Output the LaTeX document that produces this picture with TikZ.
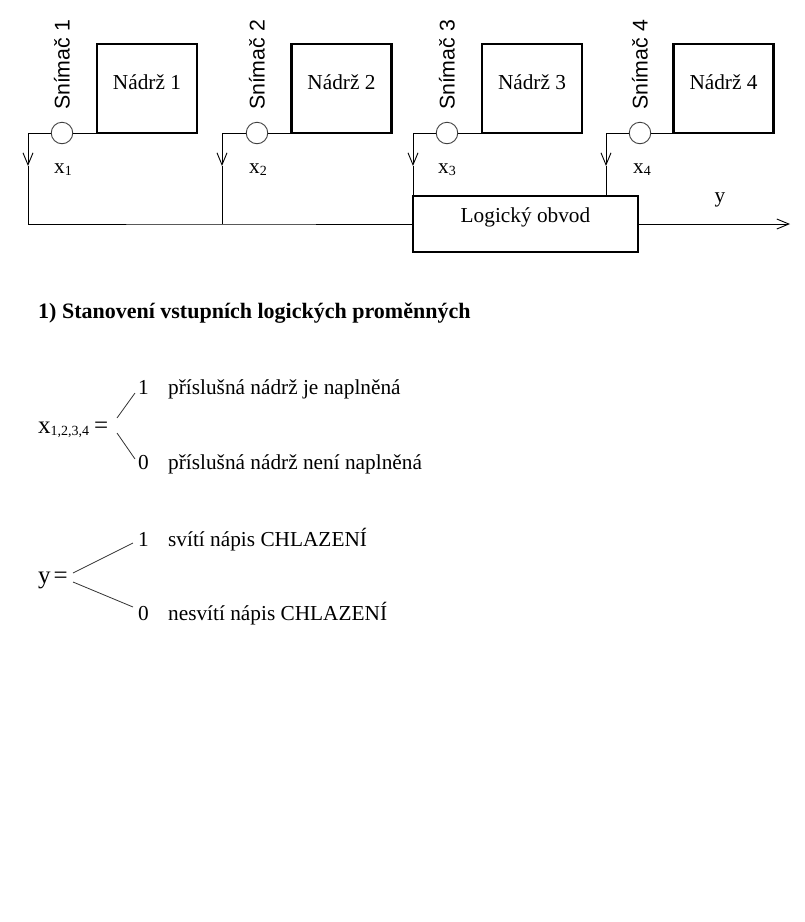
\documentclass[tikz,border=0pt]{standalone}
\usepackage{fontspec}
\setmainfont{Liberation Serif}
\newfontfamily\arialf{Liberation Sans}
\usetikzlibrary{arrows.meta}
\newcommand{\bigf}{\fontsize{21.3}{25}\selectfont}
\newcommand{\largef}{\fontsize{25}{29}\selectfont}
\newcommand{\subf}[1]{\raisebox{-2pt}{\fontsize{14}{14}\selectfont #1}}
\begin{document}
\begin{tikzpicture}[x=1pt,y=-1pt,
  wire/.style={line width=0.9pt,black},
  tank/.style={draw,line width=2.2pt,minimum width=100pt,minimum height=89pt,inner sep=0pt},
  sens/.style={draw,circle,line width=0.9pt,black!75,minimum size=21.5pt,inner sep=0pt},
  logic/.style={draw,line width=2.2pt,minimum width=225pt,minimum height=56pt,inner sep=0pt},
  txt/.style={font=\bigf,inner sep=0pt},
  vert/.style={font=\arialf\bigf,inner sep=0pt,rotate=90},
  branch/.style={line width=0.8pt,black!80},
  barb/.style={-{Straight Barb[length=12pt,width=10pt,line width=0.9pt]}}
]
\useasboundingbox (0,0) rectangle (805,922);

% tanks
\node[tank] (n1) at (147,88.5) {};
\node[tank] (n2) at (341.5,88.5) {};
\node[tank] (n3) at (532,88.5) {};
\node[tank] (n4) at (723.5,88.5) {};
\node[txt] at (147,82) {Nádrž 1};
\node[txt] at (341.5,82) {Nádrž 2};
\node[txt] at (532,82) {Nádrž 3};
\node[txt] at (723.5,82) {Nádrž 4};

% sensors
\node[sens] (s1) at (62,133) {};
\node[sens] (s2) at (257,133) {};
\node[sens] (s3) at (447,133) {};
\node[sens] (s4) at (640,133) {};
\node[vert] at (62,65) {Snímač 1};
\node[vert] at (257,65) {Snímač 2};
\node[vert] at (447,65) {Snímač 3};
\node[vert] at (640,65) {Snímač 4};

\draw[wire] (s1.east) -- (s1.east -| n1.west);
\draw[wire] (s2.east) -- (s2.east -| n2.west);
\draw[wire] (s3.east) -- (s3.east -| n3.west);
\draw[wire] (s4.east) -- (s4.east -| n4.west);

% logic box
\node[logic] (L) at (525.5,224) {};
\node[txt] at ([yshift=7pt]L.center) {Logický obvod};

% corner coordinates
\coordinate (c1) at (28,133);
\coordinate (c2) at (222,133);
\coordinate (c3) at (413,133);
\coordinate (c4) at (606,133);
\coordinate (a1) at (28,166);
\coordinate (a2) at (222,166);
\coordinate (a3) at (413,166);
\coordinate (a4) at (606,166);
\coordinate (j1) at (28,224);
\coordinate (j2) at (222,224);
\coordinate (out) at (790,224);

\draw[wire] (s1.west) -- (c1);
\draw[wire] (s2.west) -- (c2);
\draw[wire] (s3.west) -- (c3);
\draw[wire] (s4.west) -- (c4);
\draw[wire,barb] (c1) -- (a1);
\draw[wire,barb] (c2) -- (a2);
\draw[wire,barb] (c3) -- (a3);
\draw[wire,barb] (c4) -- (a4);
\draw[wire] (a1) -- (j1) -- (j2) -- (L.west);
\draw[wire] (a2) -- (j2);
\draw[wire] (a3) -- (a3 |- L.north);
\draw[wire] (a4) -- (a4 |- L.north);
\draw[wire,barb] (L.east) -- (out);

% labels
\node[txt,anchor=base west] at (54,173) {x\subf{1}};
\node[txt,anchor=base west] at (249,173) {x\subf{2}};
\node[txt,anchor=base west] at (438,173) {x\subf{3}};
\node[txt,anchor=base west] at (633,173) {x\subf{4}};
\node[txt,anchor=base] at (720,202) {y};

% heading
\node[txt,anchor=base west,font=\fontsize{22}{26}\selectfont\bfseries] at (38,318) {1) Stanovení vstupních logických proměnných};

% definitions of x
\node[txt,anchor=base west] (xdef) at (38,433) {{\largef x}\subf{1,2,3,4}\hspace{5pt}{\largef =}};
\coordinate (xb1a) at (117,418);
\coordinate (xb1b) at (135,393);
\coordinate (xb0a) at (117,433);
\coordinate (xb0b) at (135,459);
\draw[branch] (xb1a) -- (xb1b);
\draw[branch] (xb0a) -- (xb0b);
\node[txt,anchor=base west] at (138,394) {1};
\node[txt,anchor=base west] at (168,394) {příslušná nádrž je naplněná};
\node[txt,anchor=base west] at (138,469) {0};
\node[txt,anchor=base west] at (168,469) {příslušná nádrž není naplněná};

% definitions of y
\node[txt,anchor=base west,font=\largef] (ydef) at (38,583) {y\hspace{3pt}=};
\coordinate (yb1a) at (73,573);
\coordinate (yb1b) at (133,543);
\coordinate (yb0a) at (73,582);
\coordinate (yb0b) at (133,607);
\draw[branch] (yb1a) -- (yb1b);
\draw[branch] (yb0a) -- (yb0b);
\node[txt,anchor=base west] at (138,546) {1};
\node[txt,anchor=base west] at (168,546) {svítí nápis CHLAZENÍ};
\node[txt,anchor=base west] at (138,620) {0};
\node[txt,anchor=base west] at (168,620) {nesvítí nápis CHLAZENÍ};
\end{tikzpicture}
\end{document}
